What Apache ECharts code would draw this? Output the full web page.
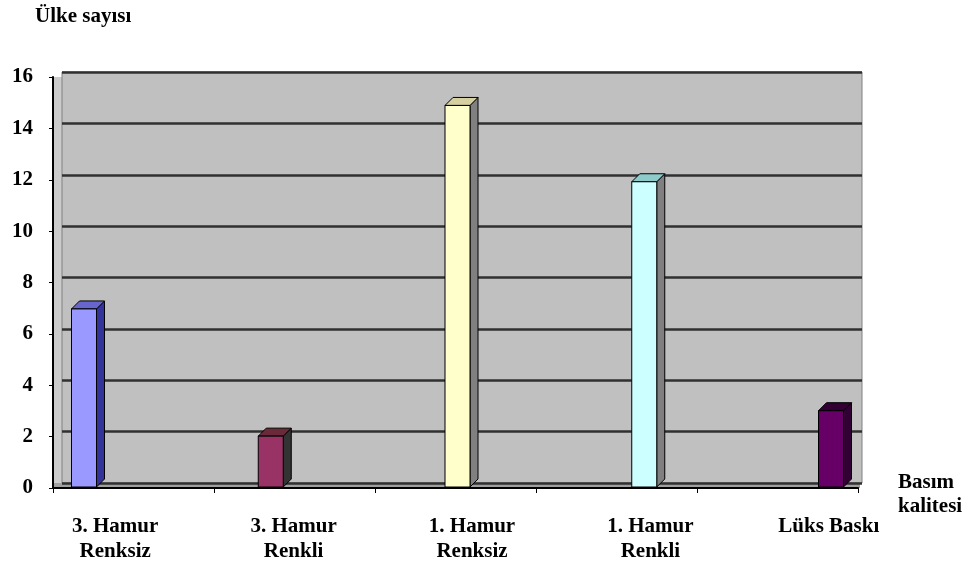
<!DOCTYPE html>
<html><head><meta charset="utf-8">
<script src="https://cdn.jsdelivr.net/npm/echarts@6/dist/echarts.min.js"></script>
<style>html,body{margin:0;padding:0;background:#fff}#c{width:964px;height:569px}</style>
</head><body><div id="c"></div>
<script>
// ---- data ----
const categories = ['3. Hamur\nRenksiz', '3. Hamur\nRenkli', '1. Hamur\nRenksiz', '1. Hamur\nRenkli', 'Lüks Baskı'];
const values = [7, 2, 15, 12, 3];
const yMin = 0, yMax = 16, yStep = 2;
const yTitle = 'Ülke sayısı';
const xTitle = 'Basım\nkalitesi';

// ---- styles ----
const faces = [
  {front: '#9999ff', side: '#333399', top: '#6666cc'},
  {front: '#993366', side: '#333333', top: '#6b2a3a'},
  {front: '#ffffcc', side: '#808080', top: '#d6cfa0'},
  {front: '#ccffff', side: '#808080', top: '#8fcaca'},
  {front: '#660066', side: '#330033', top: '#330033'}
];
const font = 'Liberation Serif, Times New Roman, serif';

const chart = echarts.init(document.getElementById('c'), null, {renderer: 'canvas'});
chart.setOption({
  animation: false,
  backgroundColor: '#ffffff',
  grid: [
    // 0: front frame (side wall)
    {left: 53, right: 106, top: 77, bottom: 81, show: true, backgroundColor: '#cbcbcb', borderWidth: 0},
    // 1: back wall
    {left: 62, right: 102, top: 72, bottom: 86, show: true, backgroundColor: '#c0c0c0', borderColor: '#808080', borderWidth: 1},
    // 2: bars
    {left: 84, right: 133, top: 80, bottom: 82},
    // 3: category labels
    {left: 26, right: 46, top: 77, bottom: 81},
    // 4: floor strip
    {left: 53, right: 104, top: 483, bottom: 81, show: true, backgroundColor: '#a0a0a0', borderWidth: 0}
  ],
  xAxis: [
    {gridIndex: 0, type: 'category', data: categories, boundaryGap: true,
     axisLine: {show: true, lineStyle: {color: '#000', width: 2}},
     axisTick: {show: true, length: 5, lineStyle: {color: '#000', width: 1}},
     axisLabel: {show: false}, z: 5},
    {gridIndex: 1, type: 'category', data: categories, show: false},
    {gridIndex: 2, type: 'category', data: categories, boundaryGap: false, show: false},
    {gridIndex: 3, type: 'category', data: categories, boundaryGap: true,
     axisLine: {show: false}, axisTick: {show: false},
     axisLabel: {show: true, interval: 0, margin: 26, color: '#000', fontFamily: font,
       fontWeight: 'bold', fontSize: 21, lineHeight: 25}},
    {gridIndex: 4, type: 'category', data: categories, show: false}
  ],
  yAxis: [
    {gridIndex: 0, type: 'value', min: yMin, max: yMax, interval: yStep,
     axisLine: {show: true, lineStyle: {color: '#000', width: 2}},
     axisTick: {show: true, length: 4, lineStyle: {color: '#000'}},
     splitLine: {show: false},
     axisLabel: {margin: 20, color: '#000', fontFamily: font, fontWeight: 'bold', fontSize: 21}, z: 5},
    {gridIndex: 1, type: 'value', min: yMin, max: yMax, interval: yStep,
     axisLine: {show: false}, axisTick: {show: false}, axisLabel: {show: false},
     splitLine: {show: true, lineStyle: {color: '#303030', width: 2.5}}},
    {gridIndex: 2, type: 'value', min: yMin, max: yMax, interval: yStep, show: false, splitLine: {show: false}},
    {gridIndex: 3, type: 'value', min: yMin, max: yMax, show: false, splitLine: {show: false}},
    {gridIndex: 4, type: 'value', min: yMin, max: yMax, show: false, splitLine: {show: false}}
  ],
  series: [{
    type: 'custom',
    xAxisIndex: 2, yAxisIndex: 2,
    z: 10,
    data: values.map((v, i) => [i, v]),
    renderItem: function (params, api) {
      const i = api.value(0), v = api.value(1);
      const top = api.coord([i, v]);
      const base = api.coord([i, 0]);
      const hw = 12.5, dx = 8, dy = 8;
      const c = faces[params.dataIndex % faces.length];
      const x0 = top[0] - hw, x1 = top[0] + hw, yt = top[1], yb = base[1];
      return {type: 'group', children: [
        {type: 'polygon', shape: {points: [[x1, yt], [x1 + dx, yt - dy], [x1 + dx, yb - dy], [x1, yb]]},
         style: {fill: c.side, stroke: '#000', lineWidth: 1}},
        {type: 'polygon', shape: {points: [[x0, yt], [x0 + dx, yt - dy], [x1 + dx, yt - dy], [x1, yt]]},
         style: {fill: c.top, stroke: '#000', lineWidth: 1}},
        {type: 'rect', shape: {x: x0, y: yt, width: 2 * hw, height: yb - yt},
         style: {fill: c.front, stroke: '#000', lineWidth: 1}}
      ]};
    }
  }],
  graphic: [
    {type: 'text', left: 35, top: 6, style: {text: yTitle, fill: '#000', font: 'bold 21px ' + font}},
    {type: 'text', left: 898, top: 471, style: {text: xTitle, fill: '#000', font: 'bold 21px ' + font, lineHeight: 24}}
  ]
});
</script>
</body></html>
